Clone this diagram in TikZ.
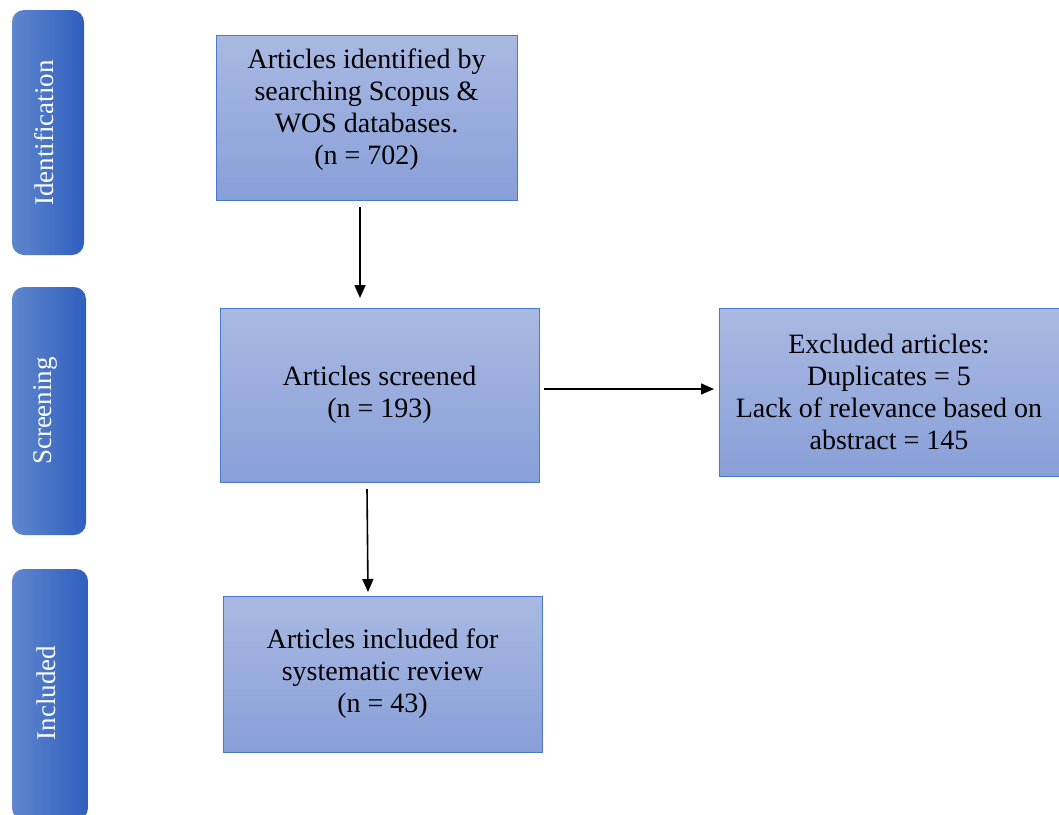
\documentclass[tikz,border=0pt]{standalone}
\usepackage{fontspec}
\setmainfont{Liberation Serif}
\usetikzlibrary{arrows.meta}
\definecolor{boxtop}{HTML}{A9B9E2}
\definecolor{boxbot}{HTML}{889FD8}
\definecolor{boxline}{HTML}{4A78CC}
\definecolor{barleft}{HTML}{5F86CE}
\definecolor{barright}{HTML}{2F5FBE}
\tikzset{
  flowbox/.style={draw=boxline, line width=0.8pt, top color=boxtop, bottom color=boxbot,
    align=center, font=\fontsize{28}{32}\selectfont, text=black, inner sep=0pt},
  sidebar/.style={rounded corners=12pt, left color=barleft, right color=barright, draw=none},
  sidelabel/.style={text=white, font=\fontsize{27}{30}\selectfont, rotate=90},
  flowarrow/.style={-{Triangle[length=13pt,width=11pt]}, line width=1.6pt, black}
}
\begin{document}
\begin{tikzpicture}[x=1pt,y=-1pt]
\useasboundingbox (0,0) rectangle (1059,814);
% side bars
\path[sidebar] (12,10) rectangle (84,255);
\node[sidelabel] (lid) at (44,133) {Identification};
\path[sidebar] (12,287) rectangle (86,535);
\node[sidelabel] (lsc) at (45,411) {Screening};
\path[sidebar] (12,569) rectangle (88,820);
\node[sidelabel] (lin) at (46,693) {Included};
% boxes
\node[flowbox, minimum width=301pt, minimum height=165pt] (b1) at (366.5,117.5) {};
\node[align=center, font=\fontsize{28}{32}\selectfont] (t1) at (366.5,110)
  {Articles identified by\\searching Scopus \&\\WOS databases.\\(n = 702)};
\node[flowbox, minimum width=319pt, minimum height=174pt] (b2) at (379.5,395)
  {Articles screened\\(n = 193)};
\node[flowbox, minimum width=340pt, minimum height=168pt] (b3) at (889,392)
  {Excluded articles:\\Duplicates = 5\\Lack of relevance based on\\abstract = 145};
\node[flowbox, minimum width=319pt, minimum height=156pt] (b4) at (382.5,674)
  {Articles included for\\systematic review\\(n = 43)};
% arrows
\coordinate (a1s) at (360,207);
\coordinate (a1e) at (360,298);
\coordinate (a2s) at (367,489);
\coordinate (a2e) at (368,592);
\coordinate (a3s) at (544,389);
\coordinate (a3e) at (714,389);
\draw[flowarrow] (a1s) -- (a1e);
\draw[flowarrow] (a2s) -- (a2e);
\draw[flowarrow] (a3s) -- (a3e);
\end{tikzpicture}
\end{document}
